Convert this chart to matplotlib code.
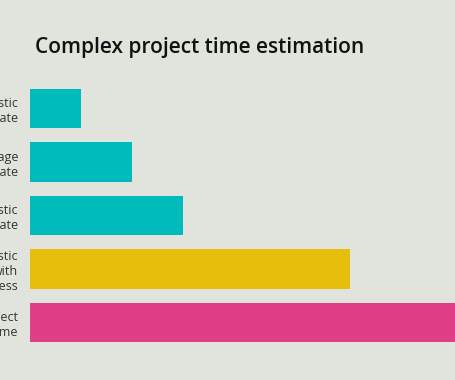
import matplotlib
matplotlib.use("Agg")
import matplotlib.pyplot as plt

categories = [
    "Optimistic\nestimate",
    "Average\nestimate",
    "Pessimistic\nestimate",
    "Pessimistic\nwith\nrandomness",
    "Actual project\ntime",
]
values = [1.0, 2.0, 3.0, 6.27, 9.0]
colors = ["#00BBBB", "#00BBBB", "#00BBBB", "#E5BE0B", "#E03E87"]

bg = "#E0E4DC"

fig = plt.figure(figsize=(4.55, 3.8), dpi=100, facecolor=bg)
ax = fig.add_axes([30 / 455, 1 - 349.25 / 380, 425 / 455, 267.5 / 380])
ax.set_facecolor(bg)

ax.barh(range(len(values)), values, height=0.74, color=colors)
ax.set_ylim(len(values) - 0.5, -0.5)
ax.set_xlim(0, 425 / 51)

# labels are cut off at the left edge, like in the source crop
ax.set_yticks(range(len(categories)))
ax.set_yticklabels(categories, fontsize=9, color="#333333",
                   family="Open Sans", linespacing=1.2)
ax.tick_params(axis="y", length=0, pad=8.5)
ax.set_xticks([])
for s in ax.spines.values():
    s.set_visible(False)

fig.text(35 / 455, 1 - 47 / 380, "Complex project time estimation",
         fontsize=15, fontweight="semibold", family="Open Sans",
         color="#111111", va="center", ha="left")

fig.savefig("out.png", dpi=100, facecolor=bg)
